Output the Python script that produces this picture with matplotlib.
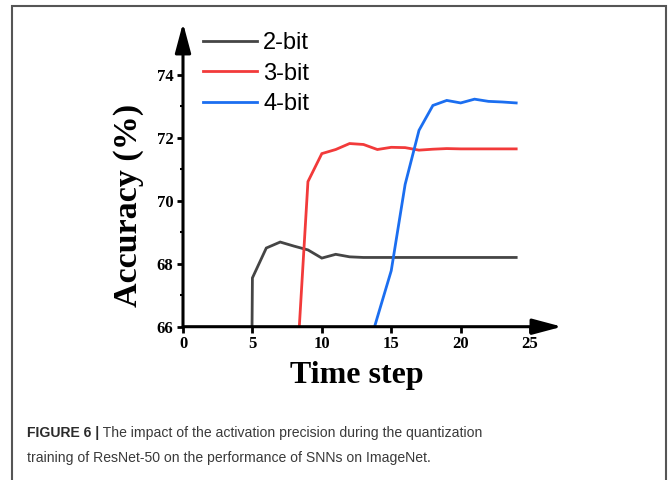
import matplotlib
matplotlib.use('Agg')
import matplotlib.pyplot as plt
from matplotlib.patches import Rectangle
from matplotlib.ticker import MultipleLocator

# data (points below 66 are estimates, they are clipped)
steps_2bit = [4, 5, 6, 7, 8, 9, 10, 11, 12, 13, 14, 15, 16, 17, 18, 19, 20, 21, 22, 23, 24]
acc_2bit = [10.0, 67.55, 68.5, 68.69, 68.56, 68.44, 68.18, 68.3, 68.22, 68.2, 68.2, 68.2,
            68.2, 68.2, 68.2, 68.2, 68.2, 68.2, 68.2, 68.2, 68.2]

steps_3bit = [8, 9, 10, 11, 12, 13, 14, 15, 16, 17, 18, 19, 20, 21, 22, 23, 24]
acc_3bit = [63.2, 70.61, 71.5, 71.63, 71.82, 71.79, 71.63, 71.7, 71.69, 71.61, 71.64,
            71.66, 71.65, 71.65, 71.65, 71.65, 71.65]

steps_4bit = [13, 14, 15, 16, 17, 18, 19, 20, 21, 22, 23, 24]
acc_4bit = [64.8, 66.3, 67.78, 70.52, 72.24, 73.03, 73.19, 73.11, 73.23, 73.16, 73.14, 73.11]

labels = ['2-bit', '3-bit', '4-bit']
colors = ['#454545', '#f23a3a', '#1b6ef0']

x_ticks = [0, 5, 10, 15, 20, 25]
y_ticks = [66, 68, 70, 72, 74]

caption_bold = 'FIGURE 6 |'
caption_line1 = ' The impact of the activation precision during the quantization'
caption_line2 = 'training of ResNet-50 on the performance of SNNs on ImageNet.'

serif = ['Liberation Serif', 'DejaVu Serif']
sans = ['Liberation Sans', 'DejaVu Sans']
cap_size = 10.1

fig = plt.figure(figsize=(6.68, 4.8), dpi=100)
ax = fig.add_axes([183 / 668, 1 - 326.7 / 480, (562 - 183) / 668, (326.7 - 23) / 480])

for xs, ys, lab, c in zip([steps_2bit, steps_3bit, steps_4bit],
                          [acc_2bit, acc_3bit, acc_4bit], labels, colors):
    ax.plot(xs, ys, color=c, lw=2.0, label=lab, solid_joinstyle='miter')

ax.set_xlim(0, 27.3)
ax.set_ylim(66, 75.65)

# axes drawn as arrows instead of spines
for s in ax.spines.values():
    s.set_visible(False)
arrow = dict(arrowstyle='-|>,head_length=0.9,head_width=0.24', lw=2.2, color='black',
             mutation_scale=20, shrinkA=0, shrinkB=0)
ax.annotate('', xy=(1, 0), xytext=(0, 0), xycoords='axes fraction', arrowprops=arrow)
ax.annotate('', xy=(0, 1), xytext=(0, 0), xycoords='axes fraction', arrowprops=arrow)

ax.set_xticks(x_ticks)
ax.set_yticks(y_ticks)
ax.yaxis.set_minor_locator(MultipleLocator(1))
ax.tick_params(axis='both', which='major', direction='out', length=4, width=2,
               pad=3, labelsize=12)
ax.tick_params(axis='y', which='minor', direction='out', length=2, width=1.5)
ax.tick_params(axis='x', which='minor', length=0)
for t in ax.get_xticklabels() + ax.get_yticklabels():
    t.set_fontfamily(serif)
    t.set_fontweight('bold')

ax.set_xlabel('Time step', fontsize=23, fontweight='bold', family=serif, labelpad=6)
ax.set_ylabel('Accuracy (%)', fontsize=24.5, fontweight='bold', family=serif, labelpad=9)
ax.xaxis.label.set_x(0.459)
ax.yaxis.label.set_y(0.40)

leg = ax.legend(loc='upper left', bbox_to_anchor=(203 / 668, 1 - 32 / 480),
                bbox_transform=fig.transFigure, frameon=False, prop={'family': sans, 'size': 17},
                handlelength=2.3, handletextpad=0.25, labelspacing=0.36,
                borderpad=0, borderaxespad=0)
for line in leg.get_lines():
    line.set_linewidth(2.0)

# grey frame around the figure panel
fig.patches.append(Rectangle((12 / 668, -0.05), (666 - 12) / 668, 1.05 - 6 / 480,
                             transform=fig.transFigure, fill=False, ec='#555555', lw=1.5))

# caption: bold label, then the plain text right after it
cap = fig.text(27 / 668, 1 - 433 / 480, caption_bold, fontsize=cap_size, fontweight='bold',
               family=sans, color='#2b2b2b', va='center')
ax.annotate(caption_line1, xy=(1, 0.5), xycoords=cap, va='center',
            fontsize=cap_size, family=sans, color='#3a3a3a', annotation_clip=False)
fig.text(27 / 668, 1 - 458 / 480, caption_line2, fontsize=cap_size,
         family=sans, color='#3a3a3a', va='center')

fig.savefig('out.png', dpi=100)
